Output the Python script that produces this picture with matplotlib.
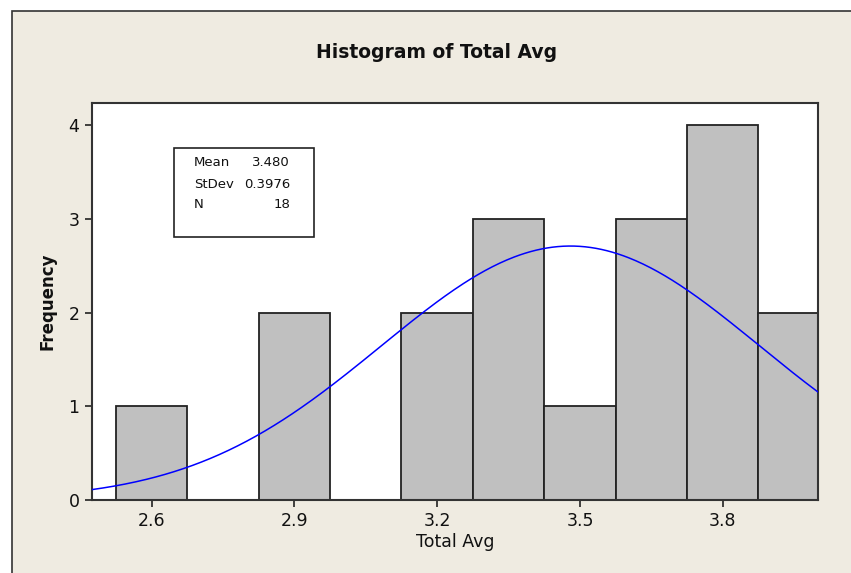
import numpy as np
import matplotlib
matplotlib.use("Agg")
import matplotlib.pyplot as plt
from matplotlib.patches import Rectangle

# Histogram data: bin midpoints and counts
bin_centers = [2.60, 2.75, 2.90, 3.05, 3.20, 3.35, 3.50, 3.65, 3.80, 3.95]
counts = [1, 0, 2, 0, 2, 3, 1, 3, 4, 2]
bin_width = 0.15

# Summary statistics shown in the legend box
mean_val = 3.480
stdev_val = 0.3976
n_val = 18

x_ticks = [2.6, 2.9, 3.2, 3.5, 3.8]
y_ticks = [0, 1, 2, 3, 4]

W, H = 851, 573
BG = "#EFEBE1"
FONT = "DejaVu Sans"
plt.rcParams["font.family"] = FONT

fig = plt.figure(figsize=(W / 100, H / 100), dpi=100)
fig.patch.set_facecolor("white")


def fx(px):
    return px / W


def fy(py):
    return 1 - py / H


# Panel background with dark frame on the left/top (runs off the right/bottom edges)
fig.add_artist(Rectangle((fx(12), -0.05), 1.1, fy(11) + 0.05, transform=fig.transFigure,
                         facecolor=BG, edgecolor="#333333", linewidth=1.2, zorder=0))

ax = fig.add_axes([fx(92), fy(500), fx(818) - fx(92), fy(103) - fy(500)])
ax.set_facecolor("white")

ax.bar(bin_centers, counts, width=bin_width, color="#C0C0C0", edgecolor="#222222",
       linewidth=1.3, zorder=2)

# Fitted normal curve scaled to counts
xs = np.linspace(2.475, 4.0, 400)
ys = n_val * bin_width / (stdev_val * np.sqrt(2 * np.pi)) * np.exp(-0.5 * ((xs - mean_val) / stdev_val) ** 2)
ax.plot(xs, ys, color="#0000FF", linewidth=1.1, zorder=3)

ax.set_xlim(2.475, 4.0)
ax.set_ylim(0, 4.235)
ax.set_xticks(x_ticks)
ax.set_xticklabels([f"{t:.1f}" for t in x_ticks])
ax.set_yticks(y_ticks)
ax.tick_params(direction="out", length=5, width=1.2, color="#222222", labelsize=12.5,
               labelcolor="#111111", pad=4)
for s in ax.spines.values():
    s.set_color("#333333")
    s.set_linewidth(1.5)

ax.set_xlabel("Total Avg", fontsize=12.5, color="#111111", labelpad=2)
ax.set_ylabel("Frequency", fontsize=12, fontweight="bold", color="#111111", labelpad=9)

fig.text(fx(437), fy(52), "Histogram of Total Avg", ha="center", va="center",
         fontsize=13.5, fontweight="bold", color="#111111")

# Statistics box
fig.add_artist(Rectangle((fx(174), fy(237)), fx(314) - fx(174), fy(148) - fy(237),
                         transform=fig.transFigure, facecolor="white", edgecolor="#222222",
                         linewidth=1.2, zorder=5))
rows = [("Mean", f"{mean_val:.3f}"), ("StDev", f"{stdev_val:.4f}"), ("N", f"{n_val}")]
for i, (k, v) in enumerate(rows):
    y = fy(163 + 21 * i)
    fig.text(fx(194), y, k, ha="left", va="center", fontsize=9.5, color="#111111", zorder=6)
    fig.text(fx(290), y, v, ha="right", va="center", fontsize=9.5, color="#111111", zorder=6)

fig.savefig("out.png", dpi=100, facecolor=fig.get_facecolor())
